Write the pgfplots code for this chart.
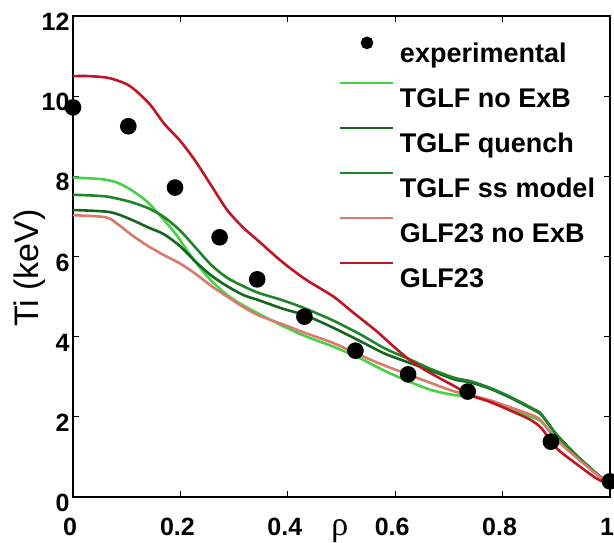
\documentclass[border=0pt]{standalone}
\usepackage{fontspec}
\setmainfont{Liberation Sans}
\newfontfamily\serifgr{Liberation Serif}
\usepackage{pgfplots}
\pgfplotsset{compat=1.18}
\definecolor{cLG}{RGB}{70,210,70}
\definecolor{cDG}{RGB}{22,100,32}
\definecolor{cMG}{RGB}{32,132,42}
\definecolor{cPK}{RGB}{218,122,110}
\definecolor{cRD}{RGB}{192,22,36}
\pgfplotsset{
  lineleg/.style={legend image code/.code={\path[draw=none,fill=none] (0pt,0pt) -- (53pt,0pt);\draw[##1,overlay,sharp plot] (0pt,18pt) -- (53pt,18pt);}},
  markleg/.style={legend image code/.code={\path[draw=none,fill=none] (0pt,0pt) -- (53pt,0pt);\path[##1,overlay,mark size=5pt] plot coordinates {(27pt,13pt)};}},
}
\begin{document}
\begin{tikzpicture}
\useasboundingbox (-73pt,-45pt) rectangle (541pt,497pt);
\begin{axis}[
  at={(0pt,0pt)}, anchor=south west,
  scale only axis, width=537pt, height=481pt,
  xmin=0, xmax=1, ymin=0, ymax=12,
  xtick={0,0.2,0.4,0.6,0.8,1},
  ytick={0,2,4,6,8,10,12},
  tick align=inside,
  major tick length=6pt,
  axis line style={line width=1.2pt},
  every tick/.style={line width=1.2pt, black},
  /pgf/number format/assume math mode=true,
  tick label style={font=\fontsize{25}{25}\selectfont\bfseries},
  xticklabel style={anchor=base, yshift=-38pt, xshift=-3pt},
  yticklabel style={yshift=-6pt},
  ylabel={Ti (keV)},
  ylabel style={font=\fontsize{34}{34}\selectfont, at={(axis description cs:-0.065,0.476)}, anchor=base},
  xlabel={{\serifgr ρ}},
  xlabel style={font=\fontsize{34}{34}\selectfont, at={(axis description cs:0.497,-0.08)}, anchor=base},
  legend cell align=left,
  legend style={draw=none, fill=none, at={(axis cs:0.4972,11.33)}, anchor=north west,
    font=\fontsize{27}{27}\selectfont\bfseries, inner sep=0pt, outer sep=0pt, row sep=19pt, column sep=7pt,
    nodes={inner sep=0pt, text height=20pt, text depth=6pt}},
  every axis plot/.append style={line width=2.6pt},
  curve/.style={smooth, tension=0.45},
]
\addplot[only marks, mark=*, mark size=7pt, black, markleg]
  coordinates {(0,9.72) (0.103,9.25) (0.19,7.72) (0.273,6.48) (0.343,5.43) (0.431,4.5) (0.526,3.65) (0.624,3.06) (0.735,2.63) (0.89,1.38) (1.0,0.39)};
\addlegendentry{experimental}
\addplot[cLG, curve, lineleg] coordinates {
(0,7.97) (0.053,7.93) (0.083,7.84) (0.112,7.63) (0.141,7.33) (0.17,6.9) (0.192,6.55) (0.214,6.12) (0.236,5.73) (0.258,5.39) (0.287,5.04) (0.317,4.78) (0.346,4.57) (0.39,4.27) (0.433,4.01) (0.485,3.75) (0.536,3.45) (0.58,3.15) (0.624,2.89) (0.667,2.67) (0.711,2.54) (0.74,2.52) (0.777,2.41) (0.814,2.2) (0.857,1.98) (0.872,1.88) (0.901,1.45) (0.938,1.0) (0.974,0.58) (1.0,0.3)};
\addlegendentry{TGLF no ExB}
\addplot[cDG, curve, lineleg] coordinates {
(0,7.16) (0.068,7.11) (0.105,6.94) (0.141,6.72) (0.17,6.55) (0.2,6.25) (0.229,5.86) (0.258,5.52) (0.287,5.26) (0.317,5.04) (0.346,4.91) (0.39,4.7) (0.433,4.53) (0.485,4.22) (0.536,3.88) (0.58,3.58) (0.624,3.36) (0.667,3.15) (0.711,2.93) (0.74,2.86) (0.777,2.7) (0.814,2.48) (0.857,2.18) (0.872,2.05) (0.901,1.55) (0.938,1.03) (0.974,0.6) (1.0,0.3)};
\addlegendentry{TGLF quench}
\addplot[cMG, curve, lineleg] coordinates {
(0,7.54) (0.06,7.5) (0.105,7.37) (0.141,7.2) (0.17,6.98) (0.2,6.64) (0.229,6.21) (0.258,5.78) (0.287,5.47) (0.317,5.26) (0.346,5.09) (0.39,4.91) (0.433,4.7) (0.485,4.4) (0.536,4.05) (0.58,3.71) (0.624,3.45) (0.667,3.19) (0.711,2.97) (0.74,2.89) (0.777,2.72) (0.814,2.5) (0.857,2.2) (0.872,2.07) (0.901,1.55) (0.938,1.03) (0.974,0.6) (1.0,0.3)};
\addlegendentry{TGLF ss model}
\addplot[cPK, curve, lineleg] coordinates {
(0,7.03) (0.061,6.98) (0.083,6.81) (0.112,6.51) (0.141,6.25) (0.17,6.03) (0.2,5.82) (0.229,5.56) (0.258,5.26) (0.287,5.0) (0.317,4.74) (0.346,4.53) (0.39,4.31) (0.433,4.09) (0.485,3.84) (0.536,3.53) (0.58,3.28) (0.624,3.06) (0.667,2.84) (0.711,2.63) (0.74,2.54) (0.777,2.41) (0.814,2.24) (0.857,2.03) (0.872,1.9) (0.901,1.42) (0.938,0.98) (0.974,0.58) (1.0,0.3)};
\addlegendentry{GLF23 no ExB}
\addplot[cRD, curve, lineleg] coordinates {
(0,10.5) (0.03,10.5) (0.068,10.45) (0.105,10.26) (0.141,9.83) (0.17,9.31) (0.2,8.88) (0.229,8.36) (0.258,7.76) (0.287,7.16) (0.317,6.72) (0.346,6.38) (0.39,5.86) (0.433,5.43) (0.485,5.0) (0.521,4.61) (0.565,4.14) (0.594,3.79) (0.624,3.45) (0.653,3.19) (0.682,2.97) (0.711,2.76) (0.74,2.54) (0.777,2.37) (0.814,2.16) (0.85,1.94) (0.872,1.72) (0.901,1.21) (0.938,0.82) (0.974,0.47) (1.0,0.3)};
\addlegendentry{GLF23}
\end{axis}
\end{tikzpicture}
\end{document}
